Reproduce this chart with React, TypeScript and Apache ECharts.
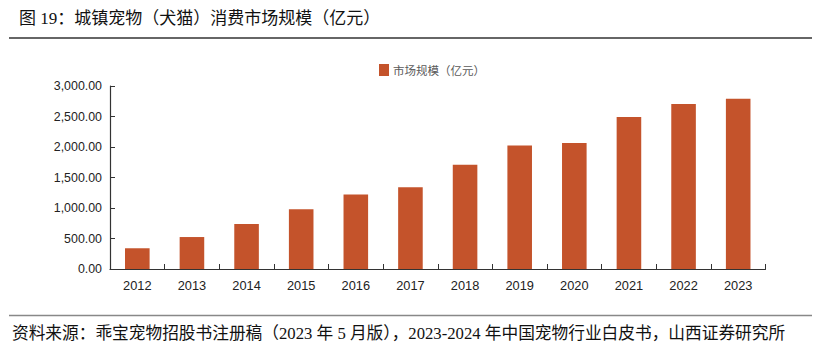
import React, { useEffect, useRef } from "react";
import * as echarts from "echarts";

const years = ["2012", "2013", "2014", "2015", "2016", "2017", "2018", "2019", "2020", "2021", "2022", "2023"];
const marketSize = [340, 524, 736, 978, 1220, 1340, 1708, 2024, 2065, 2490, 2706, 2793];
const seriesName = "市场规模（亿元）";
const titleText = "图 19：城镇宠物（犬猫）消费市场规模（亿元）";
const sourceText = "资料来源：乖宝宠物招股书注册稿（2023 年 5 月版），2023-2024 年中国宠物行业白皮书，山西证券研究所";

const fmt = (v: number) =>
  v.toLocaleString("en-US", { minimumFractionDigits: 2, maximumFractionDigits: 2 });

export default function App() {
  const ref = useRef<HTMLDivElement>(null);
  useEffect(() => {
    const chart = echarts.init(ref.current!, undefined, { renderer: "svg" });
    const serif = "'Liberation Serif', 'Noto Sans CJK SC', serif";
    chart.setOption({
      animation: false,
      backgroundColor: "#ffffff",
      graphic: [
        {
          type: "text",
          left: 19,
          top: 10,
          style: { text: titleText, fontSize: 17, fontFamily: serif, fill: "#111" },
        },
        {
          type: "line",
          shape: { x1: 9, y1: 38, x2: 812, y2: 38 },
          style: { stroke: "#333", lineWidth: 1.5 },
        },
        {
          type: "line",
          shape: { x1: 9, y1: 315.5, x2: 812, y2: 315.5 },
          style: { stroke: "#888", lineWidth: 1.5 },
        },
        {
          type: "text",
          left: 12,
          top: 325,
          style: { text: sourceText, fontSize: 16.7, fontFamily: serif, fill: "#111" },
        },
      ],
      legend: {
        left: 374,
        top: 59,
        itemWidth: 10,
        itemHeight: 12,
        itemGap: 4,
        icon: "rect",
        textStyle: { fontSize: 11.5, color: "#595959", fontFamily: "'Noto Sans CJK SC', sans-serif", padding: [0, 0, 0, -1] },
        data: [seriesName],
      },
      grid: { left: 110, right: 48.5, top: 86, bottom: 93, containLabel: false },
      xAxis: {
        type: "category",
        data: years,
        axisLine: { lineStyle: { color: "#333", width: 1.2 } },
        axisTick: { show: true, inside: true, length: 5, lineStyle: { color: "#333" } },
        axisLabel: { color: "#222", fontSize: 12.8, margin: 10, fontFamily: "'Liberation Sans', Arial, sans-serif" },
      },
      yAxis: {
        type: "value",
        min: 0,
        max: 3000,
        interval: 500,
        splitLine: { show: false },
        axisLine: { show: true, lineStyle: { color: "#333", width: 1.2 } },
        axisTick: { show: true, inside: true, length: 5, lineStyle: { color: "#333" } },
        axisLabel: {
          color: "#222",
          fontSize: 12.4,
          margin: 8,
          fontFamily: "'Liberation Sans', Arial, sans-serif",
          formatter: (v: number) => fmt(v),
        },
      },
      series: [
        {
          name: seriesName,
          type: "bar",
          data: marketSize,
          barWidth: "45%",
          itemStyle: { color: "#C4532B" },
        },
      ],
    });
    return () => chart.dispose();
  }, []);
  return <div ref={ref} style={{ position: "fixed", left: 0, top: 0, width: 814, height: 362 }} />;
}
